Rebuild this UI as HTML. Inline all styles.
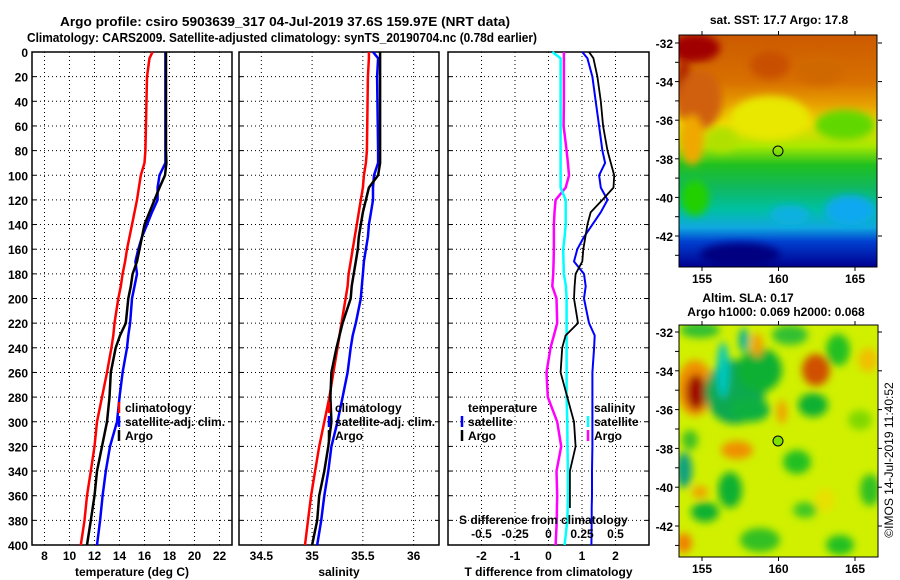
<!DOCTYPE html>
<html><head><meta charset="utf-8">
<style>
html,body{margin:0;padding:0;background:#fff;}
svg{display:block;font-family:"Liberation Sans",Arial,sans-serif;font-weight:bold;}
</style></head>
<body>
<svg id="fig" width="900" height="580" viewBox="0 0 900 580" xmlns="http://www.w3.org/2000/svg">
<defs>
 <filter id="bl" x="-20%" y="-20%" width="140%" height="140%"><feGaussianBlur stdDeviation="4"/></filter>
 <clipPath id="c1"><rect x="679" y="35" width="198" height="232"/></clipPath>
 <clipPath id="c2"><rect x="679" y="325" width="199" height="232"/></clipPath>
 <linearGradient id="sstg" x1="0" y1="0" x2="0" y2="1">
  <stop offset="0" stop-color="#cc5a00"/><stop offset="0.2" stop-color="#d87000"/>
  <stop offset="0.3" stop-color="#e8a000"/><stop offset="0.38" stop-color="#f0d800"/>
  <stop offset="0.48" stop-color="#a8e800"/><stop offset="0.56" stop-color="#20c020"/>
  <stop offset="0.66" stop-color="#10b860"/><stop offset="0.75" stop-color="#00c0a0"/>
  <stop offset="0.83" stop-color="#10a8e0"/><stop offset="0.89" stop-color="#0040d0"/>
  <stop offset="1" stop-color="#000090"/>
 </linearGradient>
</defs>
<text x="60" y="26" font-size="13" textLength="450" lengthAdjust="spacingAndGlyphs">Argo profile: csiro 5903639_317 04-Jul-2019 37.6S 159.97E (NRT data)</text>
<text x="27" y="42" font-size="13" textLength="510" lengthAdjust="spacingAndGlyphs">Climatology: CARS2009. Satellite-adjusted climatology: synTS_20190704.nc (0.78d earlier)</text>

<g clip-path="url(#c1)">
 <rect x="679" y="35" width="198" height="232" fill="url(#sstg)"/>
 <g filter="url(#bl)">
  <ellipse cx="695" cy="48" rx="25" ry="14" fill="#a00000"/>
  <ellipse cx="684" cy="90" rx="8" ry="30" fill="#b02000"/>
  <ellipse cx="700" cy="100" rx="22" ry="30" fill="#d06010"/>
  <ellipse cx="770" cy="65" rx="20" ry="14" fill="#c85000"/>
  <ellipse cx="820" cy="70" rx="25" ry="15" fill="#d06800"/>
  <ellipse cx="770" cy="118" rx="40" ry="22" fill="#e8e800"/>
  <ellipse cx="692" cy="140" rx="12" ry="25" fill="#f0a800"/>
  <ellipse cx="722" cy="140" rx="15" ry="12" fill="#b0e000"/>
  <ellipse cx="845" cy="125" rx="30" ry="15" fill="#60d800"/>
  <ellipse cx="695" cy="198" rx="14" ry="18" fill="#20d000"/>
  <ellipse cx="850" cy="210" rx="25" ry="15" fill="#10a8f0"/>
  <ellipse cx="790" cy="215" rx="20" ry="10" fill="#10b0e0"/>
  <ellipse cx="740" cy="255" rx="40" ry="12" fill="#000080"/>
 </g>
</g>
<rect x="679" y="35" width="198" height="232" fill="none" stroke="#000"/>
<circle cx="778" cy="151" r="5" fill="none" stroke="#000"/>

<g clip-path="url(#c2)">
 <rect x="679" y="325" width="199" height="232" fill="#d0f000"/>
 <g filter="url(#bl)">
  <ellipse cx="700" cy="330" rx="20" ry="8" fill="#30c030"/>
  <ellipse cx="790" cy="335" rx="18" ry="10" fill="#30c030"/>
  <ellipse cx="695" cy="388" rx="18" ry="28" fill="#f09000"/>
  <ellipse cx="696" cy="392" rx="10" ry="18" fill="#a01000"/>
  <ellipse cx="735" cy="392" rx="30" ry="32" fill="#10a850"/>
  <ellipse cx="760" cy="370" rx="22" ry="22" fill="#10b030"/>
  <ellipse cx="723" cy="370" rx="6" ry="28" fill="#00c8c0"/>
  <ellipse cx="750" cy="410" rx="20" ry="12" fill="#10b040"/>
  <ellipse cx="757" cy="345" rx="6" ry="12" fill="#f0a000"/>
  <ellipse cx="744" cy="340" rx="5" ry="12" fill="#00b0a0"/>
  <ellipse cx="782" cy="412" rx="5" ry="12" fill="#f0a000"/>
  <ellipse cx="816" cy="370" rx="14" ry="16" fill="#d05000"/>
  <ellipse cx="813" cy="405" rx="15" ry="12" fill="#10b030"/>
  <ellipse cx="838" cy="350" rx="12" ry="16" fill="#20c020"/>
  <ellipse cx="868" cy="360" rx="10" ry="12" fill="#f0c000"/>
  <ellipse cx="737" cy="450" rx="16" ry="9" fill="#f09000"/>
  <ellipse cx="730" cy="490" rx="12" ry="18" fill="#10b030"/>
  <ellipse cx="705" cy="512" rx="14" ry="10" fill="#10b030"/>
  <ellipse cx="700" cy="492" rx="8" ry="6" fill="#f0a000"/>
  <ellipse cx="684" cy="543" rx="8" ry="10" fill="#f08000"/>
  <ellipse cx="684" cy="470" rx="8" ry="18" fill="#10a080"/>
  <ellipse cx="690" cy="440" rx="8" ry="10" fill="#40c020"/>
  <ellipse cx="797" cy="462" rx="14" ry="12" fill="#20c020"/>
  <ellipse cx="805" cy="510" rx="12" ry="8" fill="#40c820"/>
  <ellipse cx="760" cy="540" rx="20" ry="12" fill="#30c020"/>
  <ellipse cx="840" cy="545" rx="14" ry="10" fill="#20c020"/>
  <ellipse cx="870" cy="490" rx="10" ry="16" fill="#30c020"/>
  <ellipse cx="825" cy="500" rx="10" ry="12" fill="#e8e000"/>
  <ellipse cx="860" cy="420" rx="12" ry="10" fill="#80d800"/>
 </g>
</g>
<rect x="679" y="325" width="199" height="232" fill="none" stroke="#000"/>
<circle cx="778" cy="441" r="5" fill="#80e000" stroke="#000"/>

<text x="779" y="24" font-size="12" text-anchor="middle">sat. SST: 17.7 Argo: 17.8</text>
<text x="748" y="302" font-size="12" text-anchor="middle">Altim. SLA: 0.17</text>
<text x="776" y="316" font-size="12" text-anchor="middle">Argo h1000: 0.069 h2000: 0.068</text>
<text x="0" y="0" font-size="12" font-weight="normal" text-anchor="middle" transform="translate(893,460) rotate(-90)">©IMOS 14-Jul-2019 11:40:52</text>
<g id="g"></g>
</svg>
<script>
const depthT = [0,5,20,80,90,100,110,120,130,140,150,160,170,180,190,200,220,230,240,260,280,300,320,340,360,380,400];
const climT = [16.65,16.4,16.2,16.07,16.0,15.7,15.55,15.4,15.2,15.0,14.8,14.6,14.45,14.25,14.1,13.9,13.6,13.5,13.35,13.0,12.6,12.2,12.0,11.7,11.4,11.2,10.9];
const satT = [17.67,17.67,17.67,17.67,17.67,17.2,17.05,17.05,16.6,16.2,15.8,15.5,15.27,15.4,15.2,15.0,14.85,14.7,14.6,14.25,14.0,13.8,13.24,12.9,12.65,12.45,12.2];
const argoT = [17.72,17.72,17.72,17.72,17.75,17.64,17.2,16.8,16.4,16.0,15.8,15.6,15.4,15.05,14.9,14.7,14.5,14.04,13.7,13.3,13.2,13.0,12.6,12.2,12.0,11.7,11.4];
const climS = [35.56,35.56,35.55,35.54,35.53,35.51,35.5,35.48,35.46,35.44,35.42,35.40,35.38,35.36,35.35,35.33,35.29,35.27,35.25,35.21,35.17,35.12,35.07,35.03,34.99,34.96,34.93];
const satS = [35.6,35.65,35.64,35.65,35.65,35.61,35.6,35.6,35.58,35.56,35.55,35.53,35.51,35.5,35.49,35.48,35.43,35.4,35.38,35.35,35.3,35.25,35.19,35.16,35.12,35.09,35.05];
const argoS = [35.67,35.67,35.67,35.67,35.67,35.65,35.56,35.53,35.5,35.48,35.46,35.45,35.43,35.41,35.39,35.38,35.3,35.27,35.24,35.19,35.18,35.19,35.16,35.12,35.07,35.05,35.0];
const depthD = [0,5,20,40,60,80,90,100,110,120,130,140,150,160,170,180,190,200,220,230,240,260,280,300,320,340,360,370,380,400];
const satTdiff = [1.01,1.16,1.31,1.41,1.51,1.61,1.69,1.51,1.56,1.76,1.56,1.31,1.06,0.86,0.76,1.06,1.11,1.06,1.21,1.38,1.36,1.31,1.31,1.31,1.31,1.3,1.3,1.29,1.29,1.28];
const argoTdiff = [1.21,1.34,1.46,1.56,1.63,1.76,1.86,1.96,1.94,1.61,1.26,1.16,1.1,1.04,1.01,0.81,0.78,0.76,0.88,0.51,0.41,0.36,0.56,0.76,0.81,0.64,0.64,0.64,null,null];
const argoSdiff = [0.115,0.115,0.115,0.115,0.113,0.135,0.145,0.153,0.128,0.053,0.045,0.04,0.04,0.04,0.038,0.035,0.028,0.06,0.065,0.04,0.015,-0.015,-0.005,0.065,0.095,0.06,0.065,0.063,0.062,0.053];
const satSdiff = [0.028,0.09,0.09,0.09,0.09,0.09,0.09,0.09,0.09,0.128,0.128,0.128,0.12,0.11,0.112,0.115,0.13,0.135,0.135,0.135,0.135,0.135,0.135,0.14,0.142,0.145,0.145,0.143,0.14,0.12];
const depthTicks = [0,20,40,60,80,100,120,140,160,180,200,220,240,260,280,300,320,340,360,380,400];
const tempTicks = [8,10,12,14,16,18,20,22];
const salTicks = [34.5,35,35.5,36];
const tdTicks = [-2,-1,0,1,2];
const sdTicks = [-0.5,-0.25,0,0.25,0.5];
const latTicks = [-32,-34,-36,-38,-40,-42];
const lonTicks = [155,160,165];

const NS='http://www.w3.org/2000/svg';
const G=document.getElementById('g');
function mk(tag,attrs,parent){const e=document.createElementNS(NS,tag);for(const k in attrs)e.setAttribute(k,attrs[k]);(parent||G).appendChild(e);return e;}
const Y0=52,Y1=545;
function yD(d){return Y0+(Y1-Y0)*d/400;}
const panels=[
 {x0:32,x1:232,v0:7,v1:23,ticks:tempTicks,name:'temperature-panel',label:'temperature (deg C)'},
 {x0:239,x1:439,v0:34.28,v1:36.25,ticks:salTicks,name:'salinity-panel',label:'salinity'},
 {x0:448,x1:649,v0:-3,v1:3,ticks:tdTicks,name:'difference-panel',label:'T difference from climatology'}
];
function xf(p,v){return p.x0+(v-p.v0)/(p.v1-p.v0)*(p.x1-p.x0);}
panels.forEach((p,pi)=>{
 const grp=mk('g',{});
 
 
 depthTicks.forEach(d=>{
  if(d>0&&d<400){const l=mk('line',{x1:p.x0,x2:p.x1,y1:yD(d),y2:yD(d),stroke:'#000','stroke-width':1,'stroke-dasharray':'1 3'},grp);
  
  }
  mk('line',{x1:p.x0,x2:p.x0+4,y1:yD(d),y2:yD(d),stroke:'#000'},grp);
  mk('line',{x1:p.x1-4,x2:p.x1,y1:yD(d),y2:yD(d),stroke:'#000'},grp);
 });
 p.ticks.forEach(v=>{
  const x=xf(p,v);
  const l=mk('line',{x1:x,x2:x,y1:Y0,y2:Y1,stroke:'#000','stroke-width':1,'stroke-dasharray':'1 3'},grp);
  
  
  const t=mk('text',{x:x,y:560,'font-size':12,'text-anchor':'middle'},grp);
  t.textContent=String(v);
  
  
 });
 const fr=mk('rect',{x:p.x0,y:Y0,width:p.x1-p.x0,height:Y1-Y0,fill:'none',stroke:'#000','stroke-width':1.5},grp);
 
 
 const al=mk('text',{x:(p.x0+p.x1)/2,y:576,'font-size':12,'text-anchor':'middle'},grp);
 al.textContent=p.label;
 
 
});
depthTicks.forEach(d=>{
 const t=mk('text',{x:28,y:yD(d)+5,'font-size':12,'text-anchor':'end'});
 t.textContent=String(d);
 
 
});
function line(p,vals,depths,color,w,name,scale){
 const pts=[];vals.forEach((v,i)=>{if(v!==null)pts.push(xf(p,v*(scale||1)).toFixed(1)+','+yD(depths[i]).toFixed(1));});
 const e=mk('polyline',{points:pts.join(' '),fill:'none',stroke:color,'stroke-width':w,'stroke-linejoin':'round'});
 
 
}
line(panels[0],climT,depthT,'#f00',2.5,'temp-climatology-line');
line(panels[0],satT,depthT,'#00f',2.5,'temp-satellite-line');
line(panels[0],argoT,depthT,'#000',2.5,'temp-argo-line');
line(panels[1],climS,depthT,'#f00',2.5,'sal-climatology-line');
line(panels[1],satS,depthT,'#00f',2.5,'sal-satellite-line');
line(panels[1],argoS,depthT,'#000',2.5,'sal-argo-line');
line(panels[2],argoSdiff,depthD,'#f0f',2.5,'sdiff-argo-line',4);
line(panels[2],satSdiff,depthD,'#0ff',2.5,'sdiff-satellite-line',4);
line(panels[2],satTdiff,depthD,'#00f',2,'tdiff-satellite-line');
line(panels[2],argoTdiff,depthD,'#000',1.8,'tdiff-argo-line');

function legend(x,y,color,text){
 if(color){const m=mk('line',{x1:x-6,x2:x-6,y1:y-10,y2:y+1,stroke:color,'stroke-width':2.5});
 
 }
 const t=mk('text',{x:x,y:y,'font-size':12});
 t.textContent=text;
 
 
}
legend(125,412,'#f00','climatology');legend(125,426,'#00f','satellite-adj. clim.');legend(125,440,'#000','Argo');
legend(335,412,'#f00','climatology');legend(335,426,'#00f','satellite-adj. clim.');legend(335,440,'#000','Argo');
legend(468,412,null,'temperature');legend(468,426,'#00f','satellite');legend(468,440,'#000','Argo');
legend(594,412,null,'salinity');legend(594,426,'#0ff','satellite');legend(594,440,'#f0f','Argo');
const sdt=mk('text',{x:459,y:524,'font-size':12});
sdt.textContent='S difference from climatology';


sdTicks.forEach(v=>{
 const t=mk('text',{x:xf(panels[2],v*4),y:538,'font-size':12,'text-anchor':'middle'});
 t.textContent=String(v);
 
 
});
[{y0:43,step:19.3,top:35,bot:267,name:'sst'},{y0:332,step:19.4,top:325,bot:557,name:'sla'}].forEach(m=>{
 latTicks.forEach((lat,i)=>{
  const y=m.y0+(-32-lat)*m.step;
  mk('line',{x1:675,x2:679,y1:y,y2:y,stroke:'#000'});
  mk('line',{x1:878,x2:882,y1:y,y2:y,stroke:'#000'});
  mk('line',{x1:675,x2:679,y1:y+m.step,y2:y+m.step,stroke:'#000'});
  const t=mk('text',{x:673,y:y+5,'font-size':12,'text-anchor':'end'});
  t.textContent=String(lat);
  
  
 });
 lonTicks.forEach(lon=>{
  const x=702+(lon-155)/5*76.5;
  mk('line',{x1:x,x2:x,y1:m.bot,y2:m.bot+4,stroke:'#000'});
  mk('line',{x1:x,x2:x,y1:m.top-4,y2:m.top,stroke:'#000'});
  const t=mk('text',{x:x,y:m.bot+16,'font-size':12,'text-anchor':'middle'});
  t.textContent=String(lon);
  
  
 });
});
</script>
</body></html>
